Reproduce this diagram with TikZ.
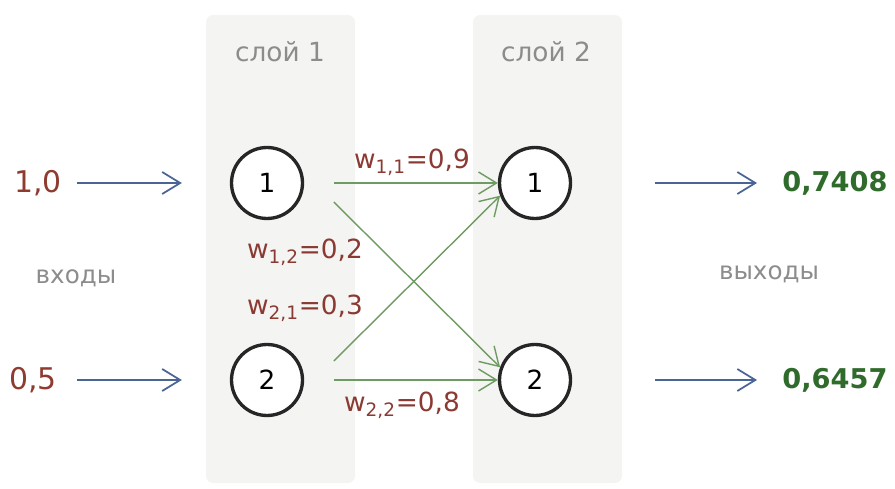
\documentclass[tikz,border=0pt]{standalone}
\usepackage{fontspec}
\setmainfont{DejaVu Sans}
\usepackage{xcolor}
\usetikzlibrary{arrows.meta}

\definecolor{bandgrey}{HTML}{F4F4F2}
\definecolor{inred}{HTML}{8E3B30}
\definecolor{wred}{HTML}{8A3A33}
\definecolor{outgreen}{HTML}{2F6B2A}
\definecolor{arrblue}{HTML}{4A6496}
\definecolor{arrgreen}{HTML}{6E9B62}
\definecolor{labgrey}{HTML}{8C8C8C}

\begin{document}
\begin{tikzpicture}[
    x=0.02cm, y=-0.02cm,
    band/.style={fill=bandgrey, rounded corners=4pt},
    neuron/.style={circle, draw=black!85, fill=white, line width=1.9pt, minimum size=1.42cm, inner sep=0pt, font=\fontsize{15}{17}\selectfont},
    layerlabel/.style={text=labgrey, font=\fontsize{15}{17}\selectfont},
    sidelabel/.style={text=labgrey, font=\fontsize{14}{16}\selectfont},
    inlabel/.style={text=inred, inner sep=0pt, font=\fontsize{17}{19}\selectfont},
    outlabel/.style={text=outgreen, inner sep=0pt, font=\bfseries\fontsize{15.5}{18}\selectfont},
    weight/.style={text=wred, inner sep=1pt, font=\fontsize{15}{17}\selectfont},
    ioarrow/.style={-{Straight Barb[length=3.6mm, width=4.4mm]}, draw=arrblue, line width=1pt},
    link/.style={-{Straight Barb[length=3.6mm, width=4.4mm]}, draw=arrgreen, line width=0.8pt}
]
    \useasboundingbox (0,0) rectangle (895,489);

    % layer bands
    \fill[band] (206,15) rectangle (355,483);
    \fill[band] (473,15) rectangle (622,483);

    \node[layerlabel] (layer1) at (280,52) {слой 1};
    \node[layerlabel] (layer2) at (546,52) {слой 2};

    % neurons
    \node[neuron] (l1n1) at (267,183) {1};
    \node[neuron] (l1n2) at (267,380) {2};
    \node[neuron] (l2n1) at (535,183) {1};
    \node[neuron] (l2n2) at (535,380) {2};

    % inputs and outputs
    \node[inlabel, anchor=east] (in1) at (62,183) {1,0};
    \node[inlabel, anchor=east] (in2) at (57,380) {0,5};
    \node[outlabel, anchor=west] (out1) at (782,183) {0,7408};
    \node[outlabel, anchor=west] (out2) at (782,380) {0,6457};

    \node[sidelabel] (inputs) at (76,278) {входы};
    \node[sidelabel] (outputs) at (769,274) {выходы};

    \draw[ioarrow, shorten <=3mm, shorten >=9.6mm] (in1.east) -- (l1n1.west);
    \draw[ioarrow, shorten <=4mm, shorten >=9.6mm] (in2.east) -- (l1n2.west);
    \draw[ioarrow, shorten <=16.6mm, shorten >=5mm] (l2n1.east) -- (out1.west);
    \draw[ioarrow, shorten <=16.6mm, shorten >=5mm] (l2n2.east) -- (out2.west);

    % links between layers
    \draw[link, shorten <=6mm] (l1n1.east) -- (l2n1.west);
    \draw[link, shorten <=9mm] (l1n1.20) -- (l2n2.160);
    \draw[link, shorten <=9mm] (l1n2.-20) -- (l2n1.-160);
    \draw[link, shorten <=6mm] (l1n2.east) -- (l2n2.west);

    % weights
    \node[weight] (w11) at (412,162) {w\textsubscript{1,1}=0,9};
    \node[weight] (w12) at (305,252) {w\textsubscript{1,2}=0,2};
    \node[weight] (w21) at (305,308) {w\textsubscript{2,1}=0,3};
    \node[weight] (w22) at (402,405) {w\textsubscript{2,2}=0,8};
\end{tikzpicture}
\end{document}
